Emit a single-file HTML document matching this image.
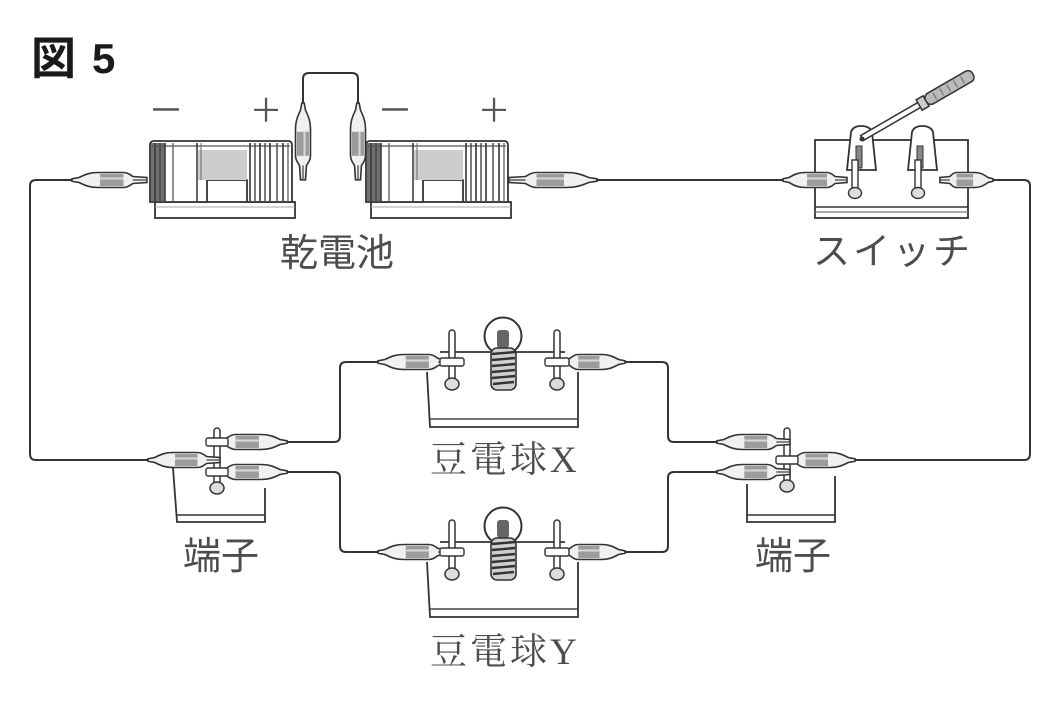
<!DOCTYPE html>
<html><head><meta charset="utf-8"><style>
html,body{margin:0;padding:0;background:#fff;}
svg{display:block;}
</style></head><body>
<svg width="1064" height="701" viewBox="0 0 1064 701" xmlns="http://www.w3.org/2000/svg">
<defs>
 <g id="clip">
  <path d="M0,-1.2 L6,-2.5 C12,-6 16,-7.5 22,-7.5 L44,-7.5 C48,-7.5 50,-5 52,-3.5 L64,-2.5 L64,2.5 L52,3.5 C50,5 48,7.5 44,7.5 L22,7.5 C16,7.5 12,6 6,2.5 L0,1.2 Z" fill="#f0f0f0" stroke="#333" stroke-width="1.6" vector-effect="non-scaling-stroke"/>
  <rect x="24" y="-6" width="20" height="12" fill="#9c9c9c"/>
  <line x1="24" y1="-1.5" x2="44" y2="-1.5" stroke="#d8d8d8" stroke-width="2"/>
  <line x1="52" y1="0" x2="64" y2="0" stroke="#555" stroke-width="1.4" vector-effect="non-scaling-stroke"/>
 </g>
 <g id="batt">
  <rect x="5" y="62" width="140" height="16" fill="#fff" stroke="#333" stroke-width="1.8"/>
  <line x1="5" y1="67" x2="145" y2="67" stroke="#aaa" stroke-width="1"/>
  <path d="M0,62 L0,5 Q0,1 4,1 L138,1 Q142,1 142,5 L142,62 L97,62 L97,40 L57,40 L57,62 Z" fill="#fff" stroke="#333" stroke-width="1.8"/>
  <rect x="48" y="10" width="49" height="30" fill="#cdcdcd"/>
  <rect x="1" y="3" width="14" height="58" fill="#707070"/>
  <line x1="5" y1="3" x2="5" y2="61" stroke="#333" stroke-width="1.5"/>
  <line x1="10" y1="3" x2="10" y2="61" stroke="#444" stroke-width="1.5"/>
  <line x1="2" y1="6" x2="140" y2="6" stroke="#555" stroke-width="1.2"/>
  <line x1="15" y1="3" x2="15" y2="61" stroke="#333" stroke-width="1.5"/>
  <line x1="23" y1="3" x2="23" y2="61" stroke="#555" stroke-width="1.3"/>
  <line x1="47" y1="3" x2="47" y2="61" stroke="#333" stroke-width="1.5"/>
  <line x1="51" y1="3" x2="51" y2="40" stroke="#666" stroke-width="1"/>
  <line x1="100" y1="3" x2="100" y2="61" stroke="#333" stroke-width="1.6"/>
  <line x1="105" y1="3" x2="105" y2="61" stroke="#444" stroke-width="1.4"/>
  <line x1="110" y1="3" x2="110" y2="61" stroke="#333" stroke-width="1.6"/>
  <line x1="115" y1="3" x2="115" y2="61" stroke="#444" stroke-width="1.4"/>
  <line x1="120" y1="3" x2="120" y2="61" stroke="#333" stroke-width="1.6"/>
  <line x1="127" y1="3" x2="127" y2="61" stroke="#444" stroke-width="1.4"/>
  <line x1="133" y1="3" x2="133" y2="61" stroke="#333" stroke-width="1.6"/>
  <line x1="138" y1="3" x2="138" y2="61" stroke="#555" stroke-width="1.2"/>
 </g>
 <g id="bulb">
  <path d="M427,372 L430,427 L578,427 L578,372" fill="#fff" stroke="#333" stroke-width="1.8"/>
  <line x1="430" y1="419" x2="578" y2="419" stroke="#444" stroke-width="1.4"/>
  <line x1="440" y1="352" x2="565" y2="352" stroke="#333" stroke-width="1.8"/>
  <circle cx="503" cy="336" r="18.5" fill="#fff" stroke="#333" stroke-width="2"/>
  <rect x="497" y="330" width="12" height="18" rx="3" fill="#666"/>
  <rect x="491" y="348" width="25" height="42" rx="6" fill="#cfcfcf" stroke="#333" stroke-width="1.6"/>
  <path d="M492,354 L515,352 M492,360 L515,358 M492,366 L515,364 M492,372 L515,370 M492,378 L515,376 M493,384 L514,382" stroke="#333" stroke-width="2.4"/>
  <rect x="449" y="330" width="6" height="52" rx="3" fill="#fff" stroke="#333" stroke-width="1.5"/>
  <ellipse cx="452" cy="384" rx="7" ry="6" fill="#ddd" stroke="#333" stroke-width="1.5"/>
  <rect x="554" y="330" width="6" height="52" rx="3" fill="#fff" stroke="#333" stroke-width="1.5"/>
  <ellipse cx="557" cy="384" rx="7" ry="6" fill="#ddd" stroke="#333" stroke-width="1.5"/>
  <use href="#clip" transform="translate(378,362) scale(1.156,1)"/>
  <use href="#clip" transform="translate(625,362) scale(-1.0625,1)"/>
  <rect x="440" y="358" width="24" height="8" rx="2" fill="#fff" stroke="#333" stroke-width="1.4"/>
  <rect x="545" y="358" width="24" height="8" rx="2" fill="#fff" stroke="#333" stroke-width="1.4"/>
 </g>
</defs>

<!-- title -->
<text x="31" y="74" font-family="'Noto Sans CJK JP',sans-serif" font-weight="bold" font-size="45" fill="#1a1a1a">図</text>
<text x="92" y="73" font-family="'Liberation Sans',sans-serif" font-weight="bold" font-size="42" fill="#1a1a1a">5</text>

<!-- wires -->
<g fill="none" stroke="#333" stroke-width="2" stroke-linejoin="round">
 <path d="M72,180 L36,180 Q30,180 30,186 L30,454 Q30,460 36,460 L148,460"/>
 <path d="M597,180 L783,180"/>
 <path d="M993,180 L1024,180 Q1030,180 1030,186 L1030,454 Q1030,460 1024,460 L855,460"/>
 <path d="M303,103 L303,79 Q303,73 309,73 L352,73 Q358,73 358,79 L358,103"/>
 <path d="M287,442 L334,442 Q340,442 340,436 L340,368 Q340,362 346,362 L378,362"/>
 <path d="M287,472 L334,472 Q340,472 340,478 L340,546 Q340,552 346,552 L378,552"/>
 <path d="M625,362 L662,362 Q668,362 668,368 L668,436 Q668,442 674,442 L717,442"/>
 <path d="M625,552 L662,552 Q668,552 668,546 L668,478 Q668,472 674,472 L717,472"/>
</g>

<!-- batteries -->
<use href="#batt" transform="translate(150,140)"/>
<use href="#batt" transform="translate(366,140)"/>
<use href="#clip" transform="translate(72,180) scale(1.17,1)"/>
<use href="#clip" transform="translate(597,180) scale(-1.375,1)"/>
<use href="#clip" transform="translate(303,103) rotate(90) scale(1.2,1)"/>
<use href="#clip" transform="translate(358,103) rotate(90) scale(1.2,1)"/>

<!-- +/- signs -->
<g font-family="'Liberation Sans',sans-serif" fill="#555" stroke="#fff" stroke-width="1.4" text-anchor="middle">
 <text x="166" y="128" font-size="56">−</text>
 <text x="266" y="127" font-size="52">+</text>
 <text x="395" y="128" font-size="56">−</text>
 <text x="494" y="127" font-size="52">+</text>
</g>

<!-- switch -->
<g stroke="#333" stroke-width="1.8">
 <rect x="815" y="140" width="153" height="78" fill="#fff"/>
 <line x1="815" y1="207" x2="968" y2="207" stroke-width="1.4"/>
 <line x1="815" y1="212" x2="968" y2="212" stroke-width="1.2" stroke="#777"/>
 <path d="M847,170 L851,132 Q853,126 861,126 Q870,126 872,132 L876,170 Z" fill="#fff"/>
 <path d="M908,170 L912,132 Q914,126 922,126 Q931,126 933,132 L937,170 Z" fill="#fff"/>
 <rect x="856" y="146" width="6" height="22" fill="#888" stroke-width="1"/>
 <rect x="917" y="146" width="6" height="22" fill="#888" stroke-width="1"/>
 <rect x="852" y="160" width="6" height="32" fill="#fff" stroke-width="1.4"/>
 <ellipse cx="855" cy="193" rx="6.5" ry="5.5" fill="#ddd" stroke-width="1.4"/>
 <rect x="915" y="160" width="6" height="32" fill="#fff" stroke-width="1.4"/>
 <ellipse cx="918" cy="193" rx="6.5" ry="5.5" fill="#ddd" stroke-width="1.4"/>
 <g transform="translate(862,138) rotate(-30)">
  <rect x="0" y="-2.8" width="70" height="5.6" fill="#fff" stroke-width="1.5"/>
  <rect x="66" y="-6" width="8" height="12" fill="#ccc" stroke-width="1.5"/>
  <rect x="74" y="-6" width="54" height="12" rx="5" fill="#bbb" stroke-width="1.5"/>
  <path d="M84,-4 L84,4 M92,-4 L92,4 M100,-4 L100,4 M108,-4 L108,4 M116,-4 L116,4" stroke="#777" stroke-width="1.2"/>
 </g>
 <circle cx="862" cy="139" r="2.5" fill="#333" stroke="none"/>
</g>
<use href="#clip" transform="translate(783,180)"/>
<use href="#clip" transform="translate(993,180) scale(-0.83,1)"/>

<!-- bulbs -->
<use href="#bulb"/>
<use href="#bulb" transform="translate(0,190)"/>

<!-- left terminal -->
<g stroke="#333" stroke-width="1.8" fill="#fff">
 <path d="M173,468 L177,522 L265,522 L265,488"/>
 <line x1="177" y1="515" x2="265" y2="515" stroke-width="1.4"/>
 <rect x="214" y="428" width="6" height="58" rx="3" stroke-width="1.5"/>
 <ellipse cx="217" cy="488" rx="7" ry="6" fill="#ddd" stroke-width="1.5"/>
</g>
<use href="#clip" transform="translate(148,460) scale(1.125,1)"/>
<use href="#clip" transform="translate(287,442) scale(-1.17,1)"/>
<use href="#clip" transform="translate(287,472) scale(-1.17,1)"/>
<g stroke="#333" stroke-width="1.4" fill="#fff">
 <rect x="206" y="438" width="22" height="8" rx="2"/>
 <rect x="206" y="468" width="22" height="8" rx="2"/>
</g>

<!-- right terminal -->
<g stroke="#333" stroke-width="1.8" fill="#fff">
 <path d="M747,484 L747,522 L835,522 L835,476"/>
 <line x1="747" y1="515" x2="835" y2="515" stroke-width="1.4"/>
 <rect x="784" y="428" width="6" height="56" rx="3" stroke-width="1.5"/>
 <ellipse cx="787" cy="486" rx="7" ry="6" fill="#ddd" stroke-width="1.5"/>
</g>
<use href="#clip" transform="translate(717,442) scale(1.14,1)"/>
<use href="#clip" transform="translate(717,472) scale(1.14,1)"/>
<use href="#clip" transform="translate(855,460) scale(-1.125,1)"/>
<g stroke="#333" stroke-width="1.4" fill="#fff">
 <rect x="776" y="456" width="22" height="8" rx="2"/>
</g>

<!-- labels -->
<g fill="#4d4d4d">
 <text x="337" y="266" text-anchor="middle" font-size="38" font-family="'Liberation Sans','Noto Sans CJK JP',sans-serif">乾電池</text>
 <text x="813" y="264" font-size="37" letter-spacing="3" font-family="'Liberation Sans','Noto Sans CJK JP',sans-serif">スイッチ</text>
 <text x="430" y="472" font-size="37" letter-spacing="3" font-family="'Liberation Serif','Noto Serif CJK SC',serif">豆電球X</text>
 <text x="430" y="664" font-size="37" letter-spacing="3" font-family="'Liberation Serif','Noto Serif CJK SC',serif">豆電球Y</text>
 <text x="183" y="569" font-size="38" font-family="'Liberation Sans','Noto Sans CJK JP',sans-serif">端子</text>
 <text x="755" y="569" font-size="38" font-family="'Liberation Sans','Noto Sans CJK JP',sans-serif">端子</text>
</g>
</svg>
</body></html>
